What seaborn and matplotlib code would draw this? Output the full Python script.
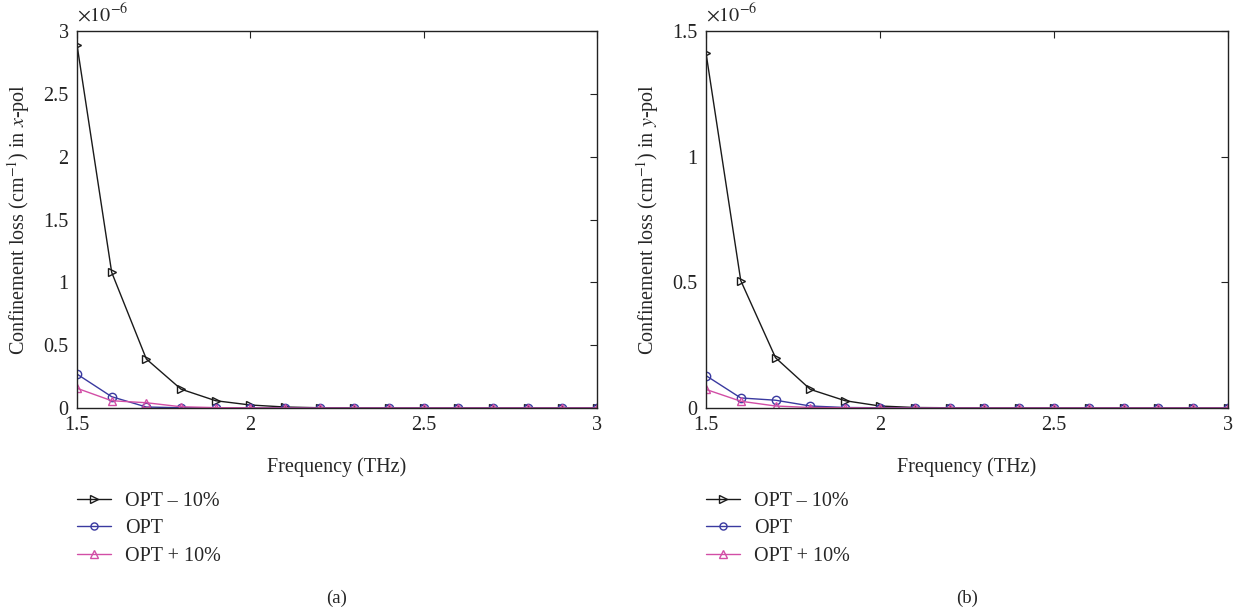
import matplotlib
matplotlib.use("Agg")
import matplotlib.pyplot as plt
import seaborn as sns
import numpy as np
from matplotlib.ticker import FormatStrFormatter, MultipleLocator

sns.set_style("white")
plt.rcParams['font.family'] = ['Liberation Serif', 'DejaVu Serif']
plt.rcParams['mathtext.fontset'] = 'stix'

# Frequency (THz)
freq = [1.5, 1.6, 1.7, 1.8, 1.9, 2.0, 2.1, 2.2, 2.3, 2.4, 2.5, 2.6, 2.7, 2.8, 2.9, 3.0]

# Confinement loss in units of 1e-6 cm^-1, x-pol (panel a)
xpol_minus10 = [2.89, 1.08, 0.39, 0.15, 0.058, 0.024, 0.008, 0.002, 0.001, 0, 0, 0, 0, 0, 0, 0]
xpol_opt     = [0.27, 0.09, 0.008, 0.002, 0.001, 0, 0, 0, 0, 0, 0, 0, 0, 0, 0, 0]
xpol_plus10  = [0.157, 0.058, 0.042, 0.01, 0.003, 0.001, 0, 0, 0, 0, 0, 0, 0, 0, 0, 0]

# Confinement loss in units of 1e-6 cm^-1, y-pol (panel b)
ypol_minus10 = [1.414, 0.507, 0.20, 0.074, 0.029, 0.008, 0.002, 0.001, 0, 0, 0, 0, 0, 0, 0, 0]
ypol_opt     = [0.129, 0.04, 0.031, 0.008, 0.002, 0.001, 0, 0, 0, 0, 0, 0, 0, 0, 0, 0]
ypol_plus10  = [0.074, 0.027, 0.008, 0.002, 0.001, 0, 0, 0, 0, 0, 0, 0, 0, 0, 0, 0]

labels = ["OPT \u2013 10%", "OPT", "OPT + 10%"]
colors = ["#1a1a1a", "#3a3aa0", "#d24ea6"]
markers = [">", "o", "^"]

fig = plt.figure(figsize=(12.42, 6.13), dpi=100)
axA = fig.add_axes([0.062, 0.3344, 0.4187, 0.615])
axB = fig.add_axes([0.5684, 0.3344, 0.4203, 0.615])

FS = 14.5

def draw(ax, series, ymax, ystep, pol, panel):
    for vals, lab, c, m in zip(series, labels, colors, markers):
        sns.lineplot(x=freq, y=vals, ax=ax, color=c, marker=m, markersize=6,
                     markerfacecolor='none', markeredgecolor=c, markeredgewidth=1.0,
                     linewidth=1.0, label=lab)
    ax.set_xlim(1.5, 3.0)
    ax.set_ylim(0, ymax)
    ax.xaxis.set_major_locator(MultipleLocator(0.5))
    ax.yaxis.set_major_locator(MultipleLocator(ystep))
    ax.xaxis.set_major_formatter(FormatStrFormatter('%g'))
    ax.yaxis.set_major_formatter(FormatStrFormatter('%g'))
    ax.tick_params(direction='in', top=True, right=True, length=5, width=0.8,
                   labelsize=FS, pad=6, colors='#222222')
    for s in ax.spines.values():
        s.set_visible(True)
        s.set_color('#222222')
        s.set_linewidth(1.0)
    ax.set_xlabel("Frequency (THz)", fontsize=FS, labelpad=16)
    ax.set_ylabel("Confinement loss (cm$^{-1}$) in $" + pol + "$-pol", fontsize=FS, labelpad=8)
    ax.text(0.0, 1.012, r"$\times 10^{-6}$", transform=ax.transAxes, fontsize=FS,
            ha='left', va='bottom')
    leg = ax.legend(loc='upper left', bbox_to_anchor=(0.0, -0.222), frameon=False,
                    fontsize=FS, handlelength=1.7, handletextpad=0.7, labelspacing=0.42,
                    borderaxespad=0.0, borderpad=0.0, markerscale=0.85)
    ax.text(0.5, -0.504, panel, transform=ax.transAxes, fontsize=FS - 1,
            ha='center', va='center')

draw(axA, [xpol_minus10, xpol_opt, xpol_plus10], 3.0, 0.5, "x", "(a)")
draw(axB, [ypol_minus10, ypol_opt, ypol_plus10], 1.5, 0.5, "y", "(b)")

fig.savefig("out.png", dpi=100)
